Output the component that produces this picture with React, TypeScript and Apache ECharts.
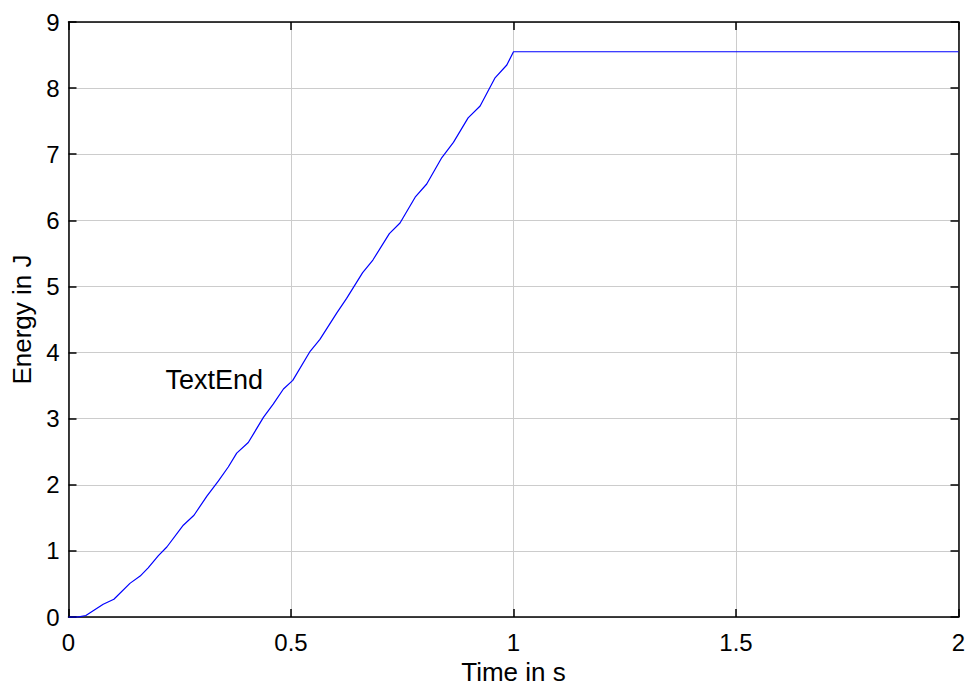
import React, { useEffect, useRef } from "react";
import * as echarts from "echarts";

const timeValues = [
  0, 0.02, 0.039, 0.078, 0.102, 0.138, 0.161, 0.179, 0.202, 0.221, 0.258, 0.282,
  0.311, 0.337, 0.359, 0.378, 0.404, 0.438, 0.46, 0.483, 0.504, 0.543, 0.565,
  0.603, 0.625, 0.661, 0.684, 0.721, 0.745, 0.779, 0.805, 0.839, 0.865, 0.898,
  0.925, 0.958, 0.985, 1.0, 2.0,
];
const energyValues = [
  0, 0.0, 0.024, 0.195, 0.27, 0.51, 0.62, 0.745, 0.93, 1.06, 1.39, 1.54,
  1.83, 2.06, 2.27, 2.48, 2.64, 3.02, 3.22, 3.45, 3.58, 4.02, 4.2,
  4.6, 4.82, 5.21, 5.4, 5.8, 5.96, 6.35, 6.55, 6.95, 7.18, 7.55,
  7.73, 8.15, 8.35, 8.55, 8.55,
];
const annotationPoint = [0.218, 3.58];
const annotationText = "TextEnd";
const xTicks = [0, 0.5, 1, 1.5, 2];
const yTicks = [0, 1, 2, 3, 4, 5, 6, 7, 8, 9];

const FONT = "Liberation Sans, Arial, sans-serif";
const FS = 24;
const NAME_FS = 26;

export default function App() {
  const ref = useRef<HTMLDivElement>(null);
  useEffect(() => {
    if (!ref.current) return;
    const chart = echarts.init(ref.current, null, { renderer: "svg" });
    const axisCommon = {
      type: "value" as const,
      axisLine: { show: true, onZero: false, lineStyle: { color: "#000", width: 1.5 } },
      axisTick: { show: true, inside: true, length: 8, lineStyle: { color: "#000", width: 1.5 } },
    };
    chart.setOption({
      animation: false,
      backgroundColor: "#fff",
      textStyle: { fontFamily: FONT },
      grid: { left: 68.5, top: 22, right: 10.5, bottom: 68.3, containLabel: false },
      xAxis: [
        {
          ...axisCommon,
          position: "bottom",
          min: xTicks[0],
          max: xTicks[xTicks.length - 1],
          interval: 0.5,
          name: "Time in s",
          nameLocation: "middle",
          nameGap: 40,
          nameTextStyle: { fontSize: NAME_FS, color: "#000", fontFamily: FONT },
          axisLabel: { fontSize: FS, color: "#000", margin: 13, fontFamily: FONT },
          splitLine: { show: true, lineStyle: { color: "#cccccc", width: 1 } },
        },
        {
          ...axisCommon,
          position: "top",
          min: xTicks[0],
          max: xTicks[xTicks.length - 1],
          interval: 0.5,
          axisLabel: { show: false },
          splitLine: { show: false },
        },
      ],
      yAxis: [
        {
          ...axisCommon,
          position: "left",
          min: yTicks[0],
          max: yTicks[yTicks.length - 1],
          interval: 1,
          name: "Energy in J",
          nameLocation: "middle",
          nameGap: 33,
          nameTextStyle: { fontSize: NAME_FS, color: "#000", fontFamily: FONT },
          axisLabel: { fontSize: FS, color: "#000", margin: 9, fontFamily: FONT },
          splitLine: { show: true, lineStyle: { color: "#cccccc", width: 1 } },
        },
        {
          ...axisCommon,
          position: "right",
          min: yTicks[0],
          max: yTicks[yTicks.length - 1],
          interval: 1,
          axisLabel: { show: false },
          splitLine: { show: false },
        },
      ],
      series: [
        {
          type: "line",
          data: timeValues.map((t, i) => [t, energyValues[i]]),
          showSymbol: false,
          symbol: "none",
          lineStyle: { color: "#0000ff", width: 1.2 },
          z: 5,
        },
        {
          type: "scatter",
          data: [annotationPoint],
          symbolSize: 0,
          itemStyle: { color: "#000", opacity: 1 },
          label: {
            show: true,
            position: "right",
            distance: 0,
            formatter: annotationText,
            fontSize: 27,
            color: "#000",
            opacity: 1,
            fontFamily: FONT,
          },
        },
      ],
    });
    return () => chart.dispose();
  }, []);
  return <div ref={ref} style={{ width: 969, height: 690, position: "absolute", left: 0, top: 0 }} />;
}
